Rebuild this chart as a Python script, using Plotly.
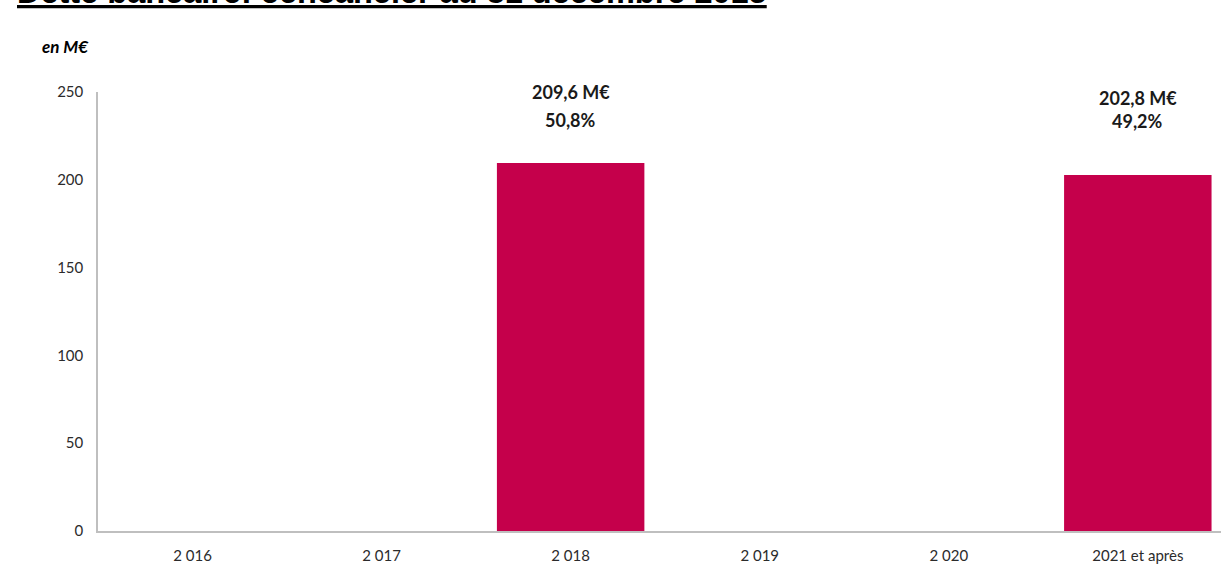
import plotly.graph_objects as go

# Bank debt maturity schedule (in M€)
categories = ["2 016", "2 017", "2 018", "2 019", "2 020", "2021 et après"]
amounts = [0, 0, 209.6, 0, 0, 202.8]
shares = [None, None, "50,8%", None, None, "49,2%"]
amount_labels = [None, None, "209,6 M€", None, None, "202,8 M€"]
y_ticks = [0, 50, 100, 150, 200, 250]

BAR_COLOR = "#C5004B"
AXIS_COLOR = "#BFBFBF"
FONT = "Lato"
LEFT, PLOT_W, TOP, PLOT_H = 98, 1123, 92, 439

fig = go.Figure()
fig.add_trace(go.Bar(
    x=categories,
    y=amounts,
    marker=dict(color=BAR_COLOR, line=dict(width=0)),
    width=0.78,
    hoverinfo="skip",
))

# value and share labels above the non-empty bars (pixel offsets above bar top)
amount_shift = {2: 71, 5: 77}
share_shift = {2: 43, 5: 54}
label_font = dict(family=FONT, size=18, color="#1a1a1a")
for i, (cat, val) in enumerate(zip(categories, amounts)):
    if amount_labels[i] is None:
        continue
    fig.add_annotation(
        x=cat, y=val, xref="x", yref="y",
        text=f"<b>{amount_labels[i]}</b>",
        showarrow=False, yanchor="middle", yshift=amount_shift[i],
        font=label_font,
    )
    fig.add_annotation(
        x=cat, y=val, xref="x", yref="y",
        text=f"<b>{shares[i]}</b>",
        showarrow=False, yanchor="middle", yshift=share_shift[i],
        font=label_font,
    )


def px_x(px):
    return (px - LEFT) / PLOT_W


def px_y(py):
    return (TOP + PLOT_H - py) / PLOT_H


# page title (top band, partly above the page edge)
fig.add_annotation(
    x=px_x(15), xref="paper", xanchor="left",
    y=px_y(-8), yref="paper", yanchor="middle",
    text='<span style="text-decoration:underline">Dette bancaire: échéancier au 31 décembre 2015</span>',
    showarrow=False,
    font=dict(family="Liberation Sans", size=32.5, color="#000000", weight="bold"),
)
fig.add_annotation(
    x=px_x(40), xref="paper", xanchor="left",
    y=px_y(47), yref="paper", yanchor="middle",
    text="<b><i>en M€</i></b>",
    showarrow=False,
    font=dict(family=FONT, size=17, color="#000000"),
)

fig.update_layout(
    width=1221, height=583,
    margin=dict(l=LEFT, r=1221 - LEFT - PLOT_W, t=TOP, b=583 - TOP - PLOT_H),
    paper_bgcolor="white", plot_bgcolor="white",
    showlegend=False,
    bargap=0.22,
    font=dict(family=FONT, size=15, color="#333333"),
)
fig.update_xaxes(
    type="category",
    range=[-0.5, 5.44],
    showline=True, linecolor=AXIS_COLOR, linewidth=1.5,
    showgrid=False, ticks="", ticklabelstandoff=10,
    tickfont=dict(family=FONT, size=15, color="#2b2b2b"),
)
fig.update_yaxes(
    range=[0, 250],
    tickvals=y_ticks,
    showline=True, linecolor=AXIS_COLOR, linewidth=1.5,
    showgrid=False, zeroline=False, ticks="", ticklabelstandoff=10,
    tickfont=dict(family=FONT, size=15, color="#2b2b2b"),
)

fig.write_html("out.html")
